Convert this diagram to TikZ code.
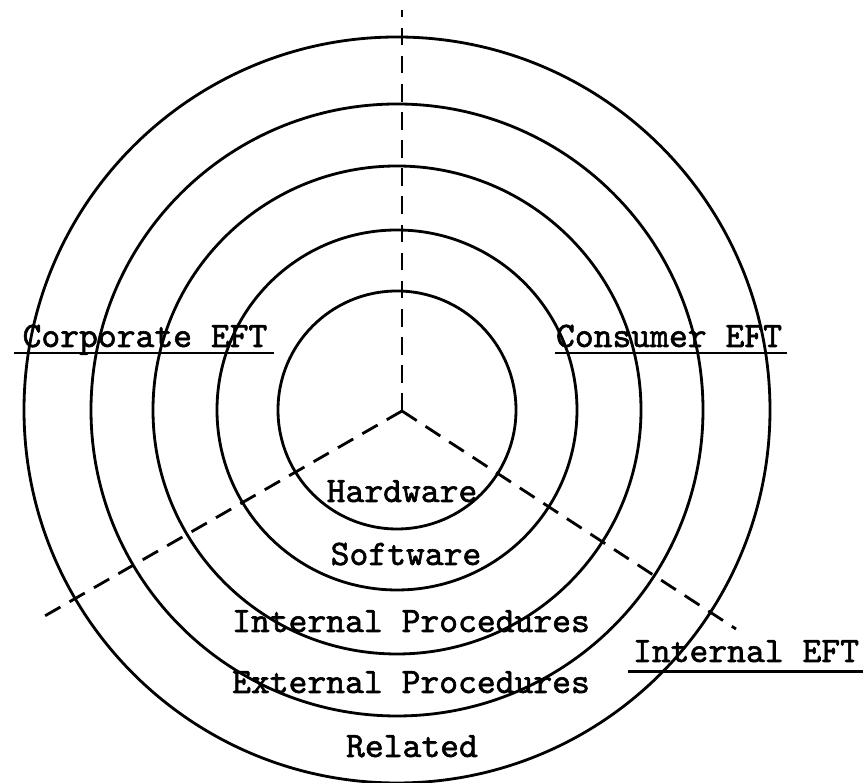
\documentclass[tikz,border=0pt]{standalone}
\usepackage{fontspec}
\setmonofont{Latin Modern Mono}[AutoFakeBold=1.6]
\begin{document}
\begin{tikzpicture}[x=0.01cm, y=-0.01cm, line width=0.8pt,
  lbl/.style={font=\ttfamily\bfseries\fontsize{10.2}{12}\selectfont, inner sep=0pt, anchor=base},
  sector/.style={dashed, dash pattern=on 5pt off 3pt}]

  \useasboundingbox (0,0) rectangle (863,783);

  % --- 1. 同心円 ---
  \coordinate (c) at (397,410);
  \foreach \r in {119,180,244,306,373}
    \draw (c) circle[radius=\r];

  % --- 2. 区分線（破線） ---
  \coordinate (o) at (402,411);
  \coordinate (top) at (402,10);
  \coordinate (lend) at (43,617);
  \coordinate (rend) at (736,629);
  \draw[sector] (o) -- (top);
  \draw[sector] (o) -- (lend);
  \draw[sector] (o) -- (rend);

  % --- 3. 各層のラベル ---
  \node[lbl] (hw) at (402,502) {Hardware};
  \node[lbl] (sw) at (406,565) {Software};
  \node[lbl] (intproc) at (411,632) {Internal Procedures};
  \node[lbl] (extproc) at (411,693) {External Procedures};
  \node[lbl] (rel) at (412,757) {Related};

  % --- 4. 区分のラベル（下線付き） ---
  \node[lbl] (corp) at (145,347) {Corporate EFT};
  \node[lbl] (cons) at (669,347) {Consumer EFT};
  \node[lbl] (inteft) at (746,662) {Internal EFT};
  \draw ([shift={(-2pt,-1.7pt)}]corp.base west) -- ([shift={(1.5pt,-1.7pt)}]corp.base east);
  \draw ([shift={(0pt,-1.7pt)}]cons.base west) -- ([shift={(1pt,-1.7pt)}]cons.base east);
  \draw ([shift={(-1pt,-2.6pt)}]inteft.base west) -- ([shift={(1.8pt,-2.6pt)}]inteft.base east);

\end{tikzpicture}
\end{document}
